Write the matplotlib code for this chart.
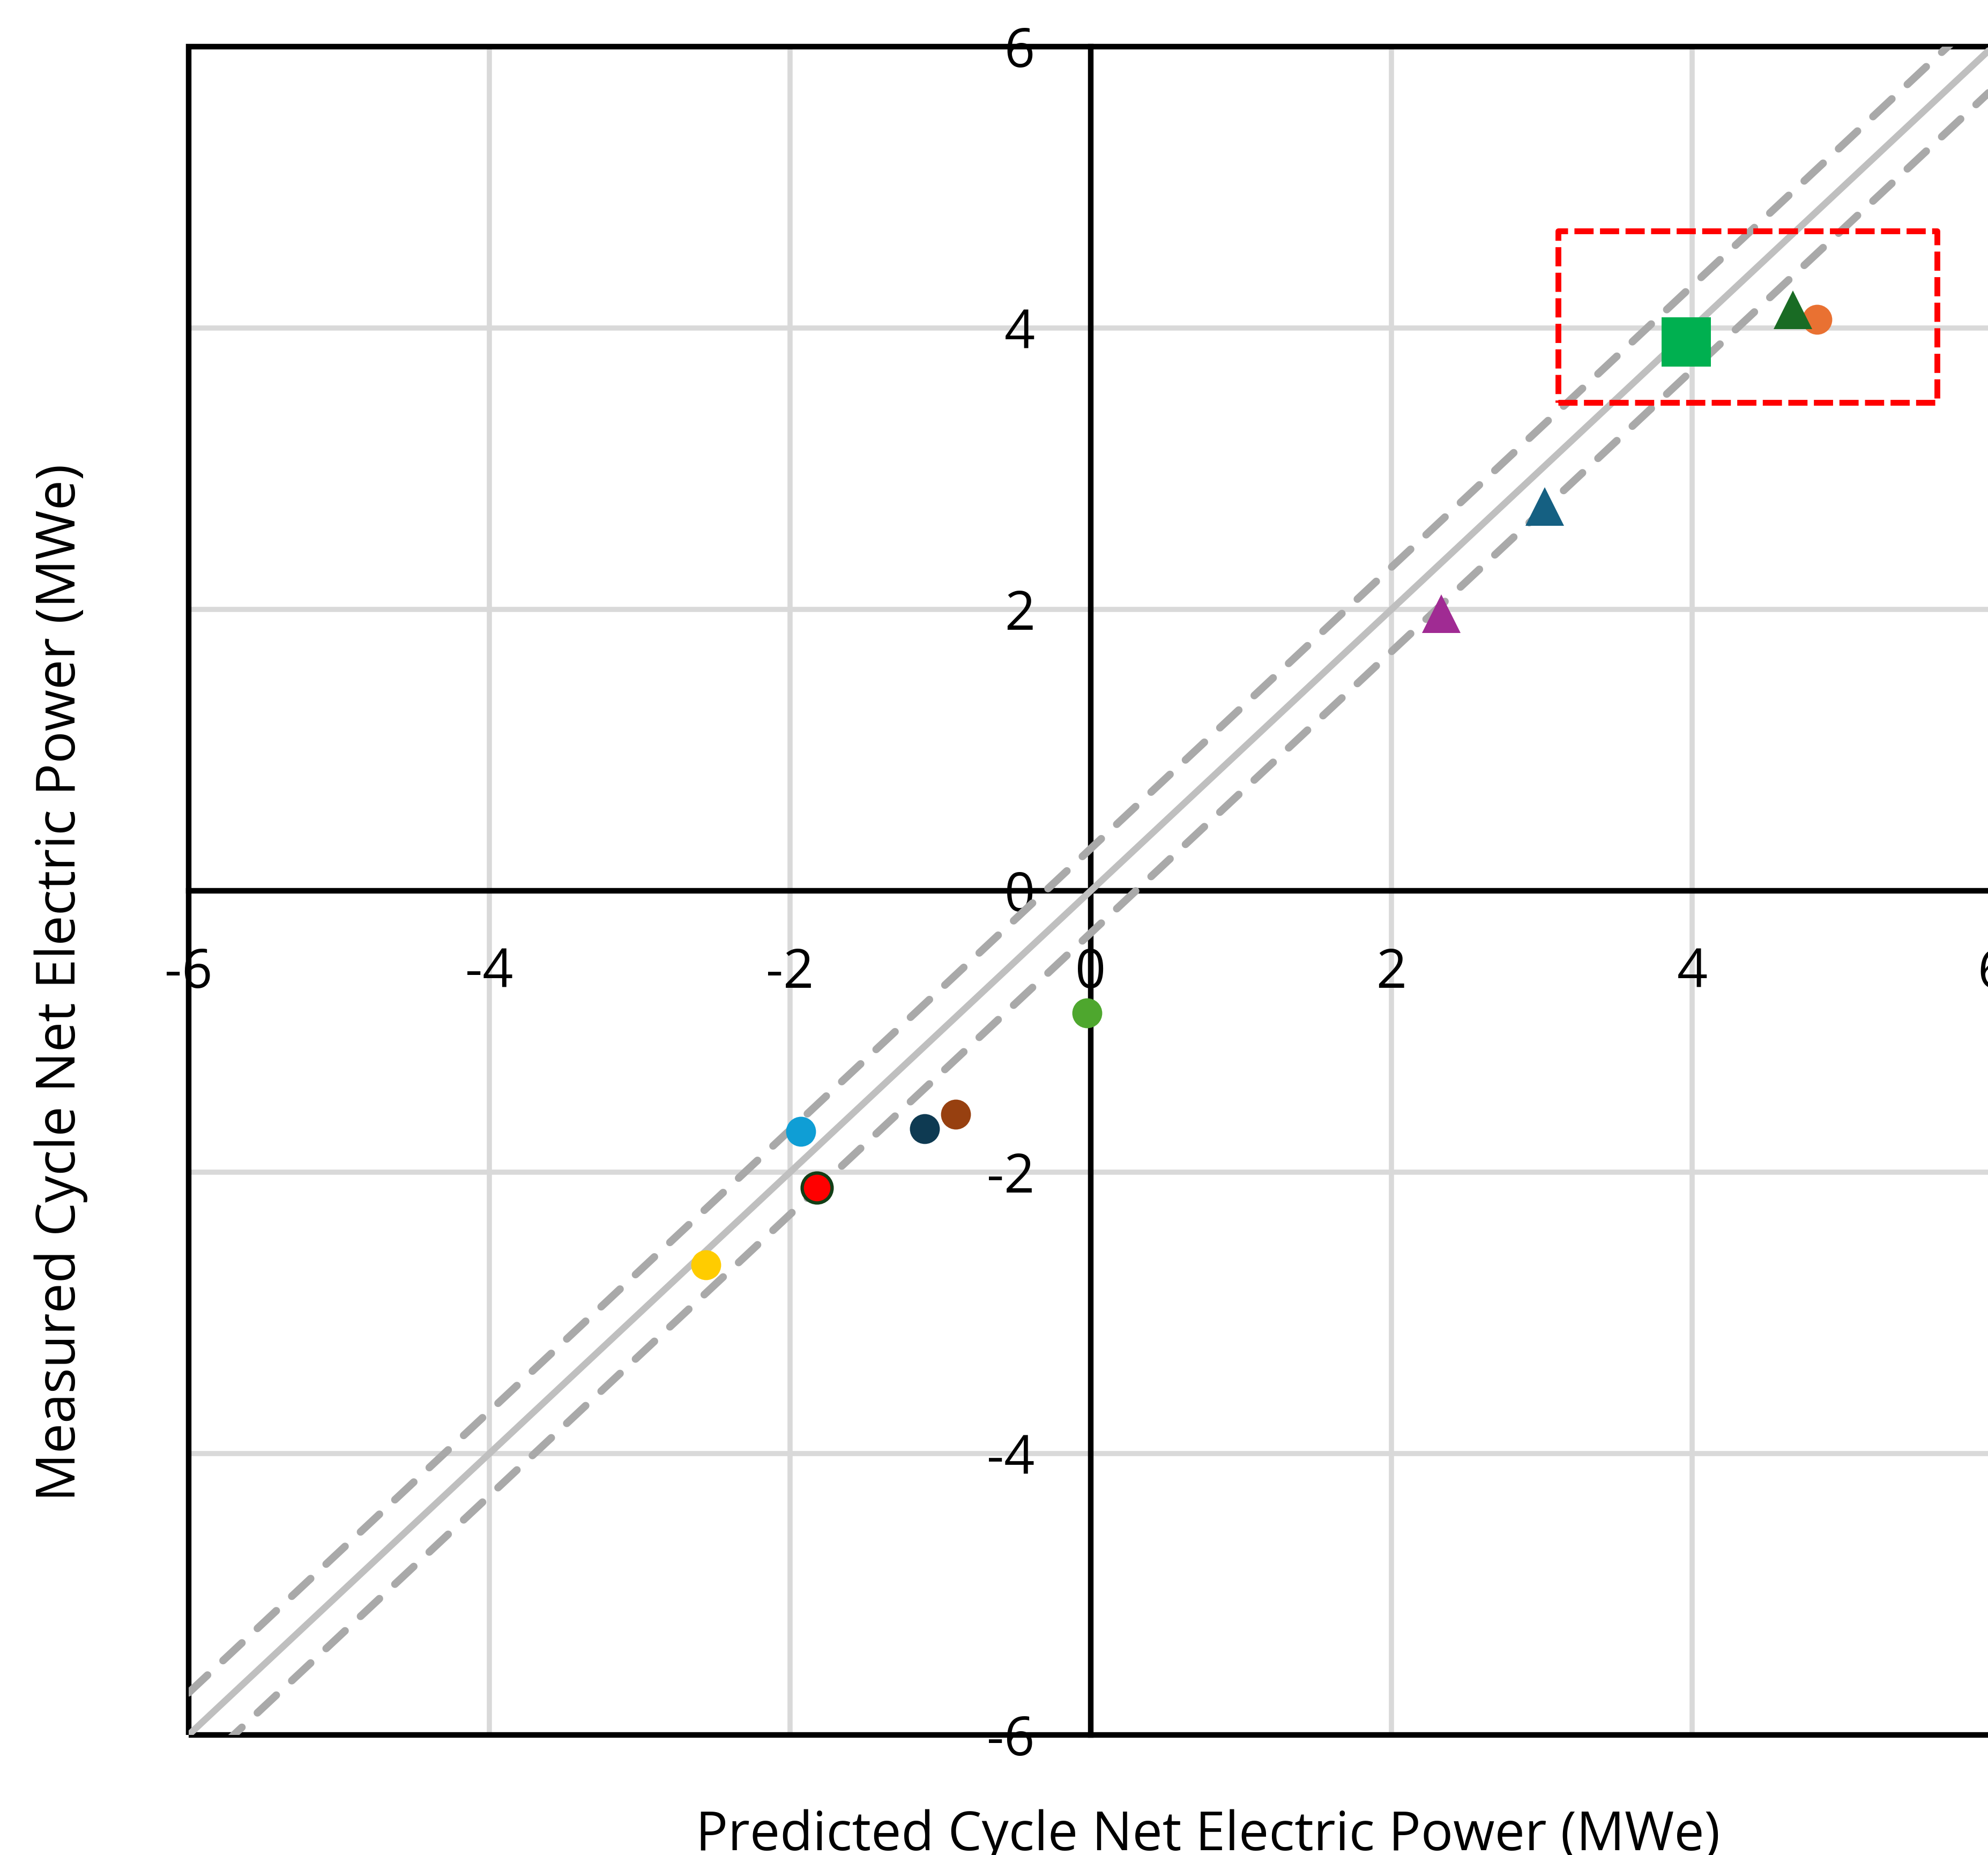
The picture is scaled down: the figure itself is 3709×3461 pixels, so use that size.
import matplotlib
matplotlib.use("Agg")
import matplotlib.pyplot as plt
from matplotlib.patches import Rectangle
import numpy as np

# ---- data -------------------------------------------------------------
predicted = [-2.56, -1.93, -1.82, -1.105, -0.90, -0.025, 2.33, 3.02, 3.96, 4.83, 4.67]
measured = [-2.66, -1.71, -2.11, -1.69, -1.59, -0.87, 1.97, 2.73, 3.90, 4.06, 4.13]
face_colors = ["#ffcc00", "#0f9ed5", "#ff0000", "#0e3a52", "#974010", "#4ea72e",
               "#a02b93", "#156082", "#00b050", "#e97132", "#196b24"]
edge_colors = ["none", "none", "#123f16", "none", "none", "none",
               "none", "none", "none", "none", "none"]
markers = ["o", "o", "o", "o", "o", "o", "^", "^", "s", "o", "^"]
marker_sizes = [13.4, 13.4, 13.4, 13.4, 13.4, 13.4, 17.3, 17.3, 22.0, 13.4, 17.3]

axis_range = [-6, 6]
tick_values = [-6, -4, -2, 0, 2, 4, 6]
tick_labels = ["-6", "-4", "-2", "0", "2", "4", "6"]
band = 0.3                                   # +/- tolerance band around parity
highlight_box = [3.11, 3.47, 5.63, 4.69]     # x0, y0, x1, y1

x_title = "Predicted Cycle Net Electric Power (MWe)"
y_title = "Measured Cycle Net Electric Power (MWe)"

# ---- figure -----------------------------------------------------------
plt.rcParams["font.family"] = ["Open Sans", "DejaVu Sans"]
plt.rcParams["axes.unicode_minus"] = False

W, H, DPI = 3709, 3461, 300
fig = plt.figure(figsize=(W / DPI, H / DPI), dpi=DPI)
ax = fig.add_axes([352 / W, 1 - 3237 / H, 3366 / W, 3150 / H])

ax.set_xlim(axis_range)
ax.set_ylim(axis_range)

# grid
ax.set_xticks(tick_values)
ax.set_yticks(tick_values)
ax.set_xticklabels(tick_labels)
ax.set_yticklabels(tick_labels)
ax.grid(True, color="#d9d9d9", linewidth=2.3, zorder=0)
ax.set_axisbelow(True)

# axes crossing at zero
for side in ("top", "right"):
    ax.spines[side].set_visible(False)
ax.spines["left"].set_position(("data", 0))
ax.spines["bottom"].set_position(("data", 0))
for side in ("left", "bottom"):
    ax.spines[side].set_linewidth(2.5)
    ax.spines[side].set_color("black")
    ax.spines[side].set_zorder(1.5)
ax.tick_params(axis="both", length=0, labelsize=24, colors="black")
ax.tick_params(axis="x", pad=25)
ax.tick_params(axis="y", pad=25)

# outer frame of the plot area
ax.add_patch(Rectangle((0, 0), 1, 1, transform=ax.transAxes, fill=False,
                       edgecolor="black", linewidth=2.5, zorder=1.5, clip_on=False))

# parity line and tolerance band
rng = np.array(axis_range, dtype=float)
ax.plot(rng, rng, color="#bfbfbf", linewidth=3.0, solid_capstyle="round", zorder=2)
for off in (band, -band):
    ax.plot(rng, rng + off, color="#a9a9a9", linewidth=3.4,
            linestyle=(0, (3.4, 2.8)), dash_capstyle="round", zorder=2)

# measured vs predicted points
for xv, yv, fc, ec, mk, ms in zip(predicted, measured, face_colors, edge_colors,
                                  markers, marker_sizes):
    ax.plot([xv], [yv], linestyle="none", marker=mk, markersize=ms,
            markerfacecolor=fc, markeredgecolor=ec,
            markeredgewidth=1.5 if ec != "none" else 0, zorder=3)

# highlighted region
x0, y0, x1, y1 = highlight_box
ax.add_patch(Rectangle((x0, y0), x1 - x0, y1 - y0, fill=False, edgecolor="#ff0000",
                       linewidth=2.6, linestyle=(0, (3.3, 1.1)), joinstyle="round",
                       zorder=4))

# axis titles
fig.text(2254 / W, 1 - 3452 / H, x_title, ha="center", va="baseline", fontsize=24)
fig.text(140 / W, 1 - 1833 / H, y_title, ha="center", va="baseline", fontsize=24,
         rotation=90, rotation_mode="anchor")

fig.savefig("out.png", dpi=DPI)
